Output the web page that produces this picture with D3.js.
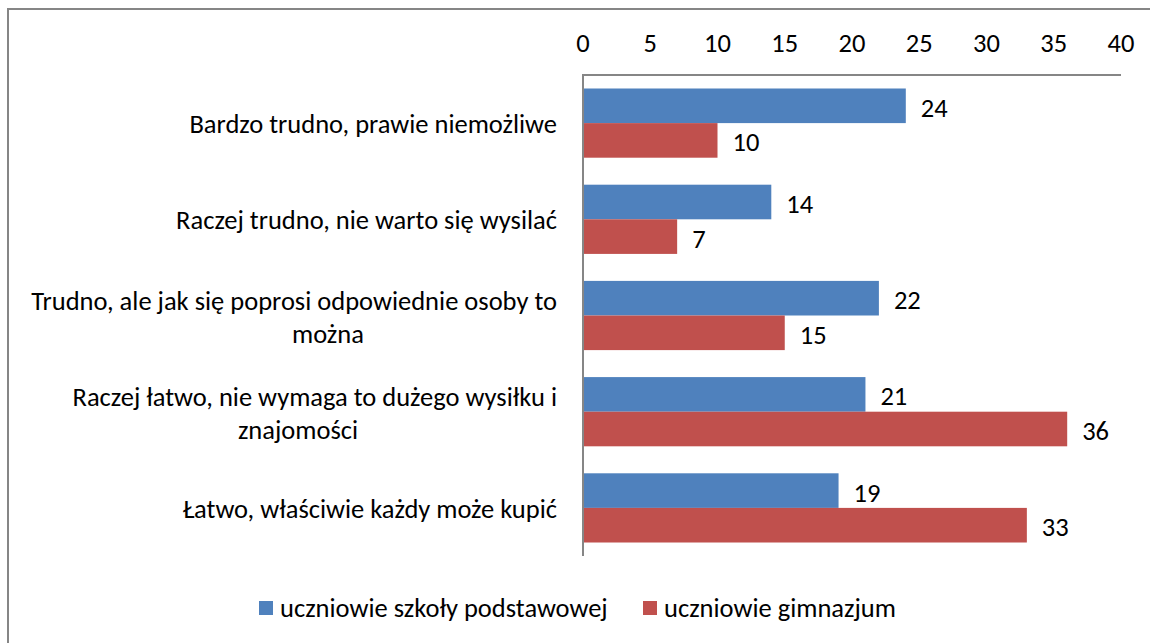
<!DOCTYPE html>
<html>
<head>
<meta charset="utf-8">
<script src="https://cdn.jsdelivr.net/npm/d3@7"></script>
<style>
  body { margin: 0; background: #fff; }
  svg text { font-family: Carlito, Lato, "Open Sans", sans-serif; fill: #000; }
</style>
</head>
<body>
<div id="chart"></div>
<script>
// Data
let categories = [
	['Bardzo trudno, prawie niemożliwe'],
	['Raczej trudno, nie warto się wysilać'],
	['Trudno, ale jak się poprosi odpowiednie osoby to', 'można'],
	['Raczej łatwo, nie wymaga to dużego wysiłku i', 'znajomości'],
	['Łatwo, właściwie każdy może kupić']
];
let seriesNames = ['uczniowie szkoły podstawowej', 'uczniowie gimnazjum'];
let primary = [24, 14, 22, 21, 19];
let gimnazjum = [10, 7, 15, 36, 33];
let ticks = [0, 5, 10, 15, 20, 25, 30, 35, 40];
let colors = ['#4F81BD', '#C0504D'];

let width = 1150;
let height = 643;
let fs = 26.5;

let svg = d3.select('#chart')
	.append('svg')
	.attr('width', width)
	.attr('height', height);

// outer frame (runs off the right and bottom edge)
svg.append('rect')
   .attr('x', 8)
   .attr('y', 9)
   .attr('width', 1160)
   .attr('height', 660)
   .attr('fill', 'none')
   .attr('stroke', '#868686')
   .attr('stroke-width', 2);

let x = d3.scaleLinear().domain([0, 40]).range([583, 1121]);
let y = d3.scaleBand().domain(d3.range(categories.length)).range([75, 556]);
let inner = d3.scaleBand().domain([0, 1]).range([0, y.bandwidth()]).paddingOuter(0.39);

// tick labels on top
svg.selectAll('.tick-label')
   .data(ticks)
   .enter()
   .append('text')
   .attr('class', 'tick-label')
   .attr('x', d => x(d))
   .attr('y', 52)
   .attr('text-anchor', 'middle')
   .attr('font-size', fs)
   .text(d => d);

// bars
let series = [primary, gimnazjum];
for (let s = 0; s < series.length; s++) {
	let g = svg.append('g');
	g.selectAll('rect')
	 .data(series[s])
	 .enter()
	 .append('rect')
	 .attr('x', x(0))
	 .attr('y', (d, i) => y(i) + inner(s))
	 .attr('width', d => x(d) - x(0))
	 .attr('height', inner.bandwidth())
	 .attr('fill', colors[s]);

	g.selectAll('text')
	 .data(series[s])
	 .enter()
	 .append('text')
	 .attr('x', d => x(d) + 15)
	 .attr('y', (d, i) => y(i) + inner(s) + inner.bandwidth() / 2 + 11)
	 .attr('font-size', fs)
	 .text(d => d);
}

// axis lines
svg.append('line')
   .attr('x1', x(0)).attr('x2', x(40))
   .attr('y1', 75).attr('y2', 75)
   .attr('stroke', '#868686').attr('stroke-width', 2);
svg.append('line')
   .attr('x1', x(0)).attr('x2', x(0))
   .attr('y1', 74).attr('y2', 556)
   .attr('stroke', '#868686').attr('stroke-width', 2);

// category labels (second lines sit where Excel wrapped them)
let secondLineX = [0, 0, 328, 298, 0];
categories.forEach(function (lines, i) {
	let cy = y(i) + y.bandwidth() / 2;
	let t = svg.append('text')
	   .attr('font-size', fs)
	   .attr('text-anchor', 'end');
	if (lines.length === 1) {
		t.attr('x', 557).attr('y', cy + 10).text(lines[0]);
	} else {
		t.attr('x', 557).attr('y', cy - 6).text(lines[0]);
		svg.append('text')
		   .attr('font-size', fs)
		   .attr('text-anchor', 'middle')
		   .attr('x', secondLineX[i])
		   .attr('y', cy + 27)
		   .text(lines[1]);
	}
});

// legend
let legendX = [259, 643];
seriesNames.forEach(function (name, i) {
	svg.append('rect')
	   .attr('x', legendX[i])
	   .attr('y', 601)
	   .attr('width', 14)
	   .attr('height', 14)
	   .attr('fill', colors[i]);
	svg.append('text')
	   .attr('x', legendX[i] + 21)
	   .attr('y', 617)
	   .attr('font-size', fs)
	   .text(name);
});
</script>
</body>
</html>
